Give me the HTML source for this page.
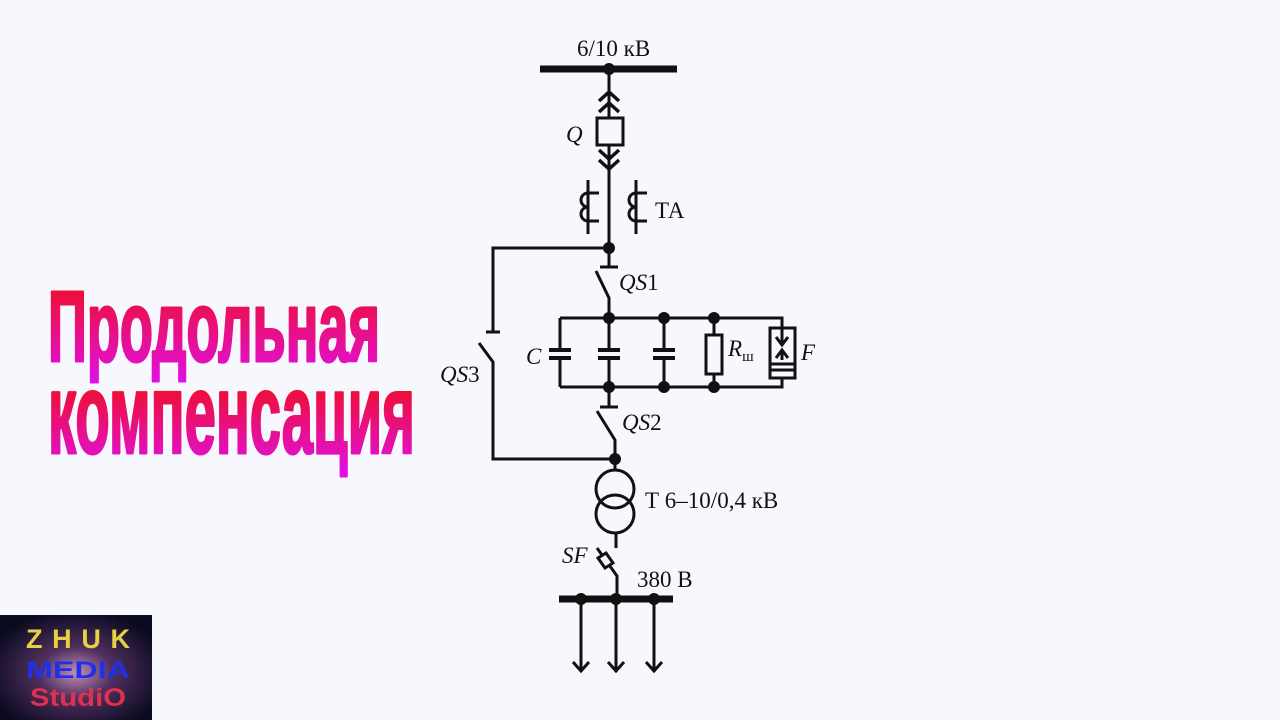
<!DOCTYPE html>
<html><head><meta charset="utf-8"><style>
html,body{margin:0;padding:0;background:#f7f8fd;}
svg{display:block}
</style></head><body>
<svg width="1280" height="720" viewBox="0 0 1280 720" xmlns="http://www.w3.org/2000/svg">
<defs>
<linearGradient id="g1" x1="0" y1="290" x2="0" y2="380" gradientUnits="userSpaceOnUse">
<stop offset="0" stop-color="#ee0f35"/><stop offset="1" stop-color="#e010e0"/></linearGradient>
<linearGradient id="g2" x1="0" y1="390" x2="0" y2="470" gradientUnits="userSpaceOnUse">
<stop offset="0" stop-color="#ee0f35"/><stop offset="1" stop-color="#e010e0"/></linearGradient>
<radialGradient id="sp" cx="0.5" cy="0.55" r="0.6"><stop offset="0" stop-color="#c090b8"/><stop offset="0.4" stop-color="#50305e"/><stop offset="1" stop-color="#0a0a20"/></radialGradient>
</defs>
<rect width="1280" height="720" fill="#f7f8fd"/>
<text x="48" y="361" font-family="Liberation Sans, sans-serif" font-weight="bold" font-size="100" textLength="332" lengthAdjust="spacingAndGlyphs" fill="url(#g1)" stroke="url(#g1)" stroke-width="3" stroke-linejoin="round">Продольная</text>
<text x="48" y="453" font-family="Liberation Sans, sans-serif" font-weight="bold" font-size="114" textLength="367" lengthAdjust="spacingAndGlyphs" fill="url(#g2)" stroke="url(#g2)" stroke-width="3" stroke-linejoin="round">компенсация</text>

<g stroke="#111" stroke-width="3" fill="none" stroke-linecap="butt">
<line x1="540" y1="69" x2="677" y2="69" stroke-width="7"/>
<line x1="609" y1="69" x2="609" y2="118"/>
<polyline points="599,101 609,92 619,101" stroke-width="3.5"/>
<polyline points="599,112 609,103 619,112" stroke-width="3.5"/>
<rect x="597" y="118" width="26" height="27"/>
<polyline points="599,150 609,159 619,150" stroke-width="3.5"/>
<polyline points="599,160 609,169 619,160" stroke-width="3.5"/>
<line x1="609" y1="145" x2="609" y2="266"/>
<!-- TA -->
<line x1="588" y1="180" x2="588" y2="234"/>
<path d="M599,193 H588 M588,193 A7,7 0 1 0 588,207 A7,7 0 1 0 588,221 M588,221 H599" />
<line x1="636" y1="180" x2="636" y2="234"/>
<path d="M647,193 H636 M636,193 A7,7 0 1 0 636,207 A7,7 0 1 0 636,221 M636,221 H647"/>
<!-- QS3 -->
<polyline points="609,248 493,248 493,332"/>
<line x1="486" y1="332" x2="500" y2="332"/>
<polyline points="479,343 493,362 493,459 615,459"/>
<!-- QS1 -->
<line x1="600" y1="267" x2="618" y2="267"/>
<polyline points="596,271 609,298 609,318"/>
<!-- rails -->
<polyline points="560,318 782,318 782,328"/>
<polyline points="560,387 782,387 782,378"/>
<line x1="560" y1="318" x2="560" y2="387"/>
<line x1="609" y1="318" x2="609" y2="407"/>
<line x1="664" y1="318" x2="664" y2="387"/>
<line x1="714" y1="318" x2="714" y2="387"/>
<g fill="#f7f8fd">
<rect x="548" y="351" width="24" height="6" stroke="none"/>
<rect x="597" y="351" width="24" height="6" stroke="none"/>
<rect x="652" y="351" width="24" height="6" stroke="none"/>
</g>
<line x1="549" y1="350" x2="571" y2="350" stroke-width="4"/><line x1="549" y1="358" x2="571" y2="358" stroke-width="4"/>
<line x1="598" y1="350" x2="620" y2="350" stroke-width="4"/><line x1="598" y1="358" x2="620" y2="358" stroke-width="4"/>
<line x1="653" y1="350" x2="675" y2="350" stroke-width="4"/><line x1="653" y1="358" x2="675" y2="358" stroke-width="4"/>
<rect x="706" y="335" width="16" height="39" fill="#f7f8fd"/>
<!-- F -->
<rect x="770" y="328" width="25" height="50" fill="#f7f8fd"/>
<line x1="782" y1="328" x2="782" y2="344"/>
<polyline points="776,337 782,345 788,337"/>
<line x1="782" y1="360" x2="782" y2="350"/>
<polyline points="776,358 782,350 788,358"/>
<line x1="770" y1="364" x2="795" y2="364"/>
<line x1="770" y1="370" x2="795" y2="370"/>
<!-- QS2 -->
<line x1="600" y1="407" x2="618" y2="407"/>
<polyline points="597,411 615,440 615,459"/>
<!-- transformer -->
<line x1="615" y1="459" x2="615" y2="470"/>
<circle cx="615" cy="489" r="19" fill="none"/>
<circle cx="615" cy="514" r="19" fill="none"/>
<line x1="616" y1="533" x2="616" y2="548"/>
<!-- SF -->
<polyline points="597,548 617,576 617,599"/>
<polygon points="598,558 606,553 613,563 605,568" fill="#f7f8fd"/>
<line x1="559" y1="599" x2="673" y2="599" stroke-width="7"/>
<line x1="581" y1="599" x2="581" y2="672"/>
<line x1="616" y1="599" x2="616" y2="672"/>
<line x1="654" y1="599" x2="654" y2="672"/>
<polyline points="573,662 581,671 589,662"/>
<polyline points="608,662 616,671 624,662"/>
<polyline points="646,662 654,671 662,662"/>
</g>
<g fill="#111">
<circle cx="609" cy="69" r="6"/><circle cx="609" cy="248" r="6"/>
<circle cx="609" cy="318" r="6"/><circle cx="664" cy="318" r="6"/><circle cx="714" cy="318" r="6"/>
<circle cx="609" cy="387" r="6"/><circle cx="664" cy="387" r="6"/><circle cx="714" cy="387" r="6"/>
<circle cx="615" cy="459" r="6"/>
<circle cx="581" cy="599" r="6"/><circle cx="616" cy="599" r="6"/><circle cx="654" cy="599" r="6"/>
</g>
<g font-family="Liberation Serif, serif" font-size="23" fill="#111">
<text x="577" y="56">6/10 кВ</text>
<text x="566" y="142" font-style="italic">Q</text>
<text x="655" y="218">ТА</text>
<text x="619" y="290" font-style="italic">QS<tspan font-style="normal">1</tspan></text>
<text x="440" y="382" font-style="italic">QS<tspan font-style="normal">3</tspan></text>
<text x="526" y="364" font-style="italic">C</text>
<text x="728" y="356" font-style="italic">R<tspan font-style="normal" font-size="15" dy="5">ш</tspan></text>
<text x="801" y="360" font-style="italic">F</text>
<text x="622" y="430" font-style="italic">QS<tspan font-style="normal">2</tspan></text>
<text x="645" y="508">Т 6–10/0,4 кВ</text>
<text x="562" y="563" font-style="italic">SF</text>
<text x="637" y="587">380 В</text>
</g>
<rect x="0" y="615" width="152" height="105" fill="url(#sp)"/>
<g font-family="Liberation Sans, sans-serif" font-weight="bold">
<text x="26" y="648" font-size="27" fill="#e8d040" textLength="104" lengthAdjust="spacing">ZHUK</text>
<text x="26" y="678" font-size="24" fill="#2030e8" textLength="104" lengthAdjust="spacingAndGlyphs">MEDIA</text>
<text x="30" y="706" font-size="25" fill="#e03050" textLength="96" lengthAdjust="spacingAndGlyphs">StudiO</text>
</g>
</svg>
</body></html>
